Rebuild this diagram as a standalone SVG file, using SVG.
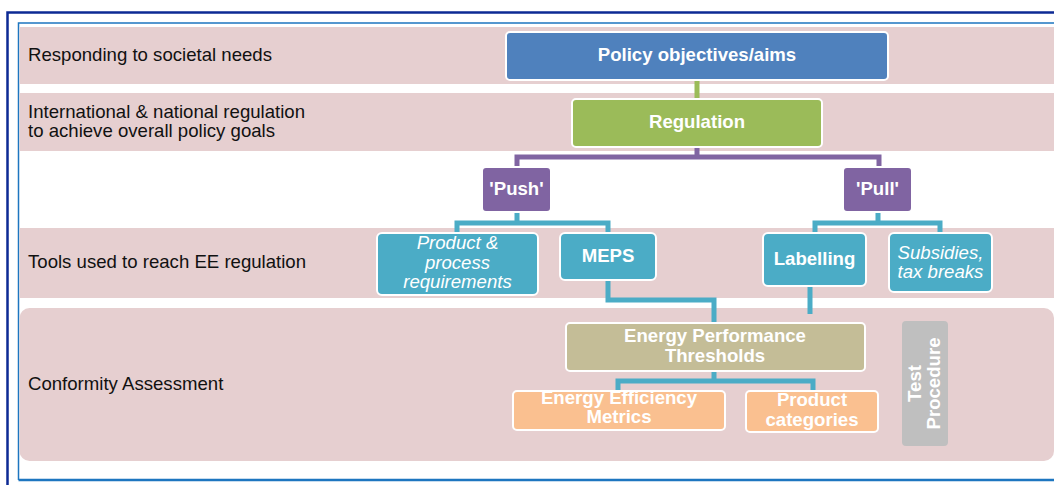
<svg xmlns="http://www.w3.org/2000/svg" width="1054" height="485" viewBox="0 0 1054 485">
<style>
.band{fill:#e6cfd0}
.lbl{font-family:"Liberation Sans",Arial,sans-serif;font-size:18.6px;fill:#111}
.node{stroke:#fff;stroke-width:2}
.t{font-family:"Liberation Sans",Arial,sans-serif;font-size:18.6px;fill:#fff;text-anchor:middle;font-weight:bold}
.ti{font-family:"Liberation Sans",Arial,sans-serif;font-size:18.6px;fill:#fff;text-anchor:middle;font-style:italic}
.c{fill:none;stroke-width:5;stroke-linejoin:miter}
</style>
<rect x="0" y="0" width="1054" height="485" fill="#fff"/>
<g id="frame">
<path d="M7.5 490 V12.5 H1060" fill="none" stroke="#0d2a94" stroke-width="2.5"/>
<path d="M18.5 480 V23 H1060" fill="none" stroke="#1d76c0" stroke-width="1.5"/>
<path d="M18.5 480 H1060" fill="none" stroke="#1d76c0" stroke-width="2.5"/>
</g>
<g id="bands">
<rect class="band" x="19.5" y="27" width="1050" height="57"/>
<rect class="band" x="19.5" y="93" width="1050" height="58"/>
<rect class="band" x="19.5" y="228" width="1050" height="70"/>
<rect class="band" x="19.5" y="308" width="1034.5" height="153" rx="10"/>
</g>
<g id="labels">
<text class="lbl" x="28" y="61">Responding to societal needs</text>
<text class="lbl" x="28" y="118">International &amp; national regulation</text>
<text class="lbl" x="28" y="137">to achieve overall policy goals</text>
<text class="lbl" x="28" y="268">Tools used to reach EE regulation</text>
<text class="lbl" x="28" y="390">Conformity Assessment</text>
</g>
<g id="connectors">
<path class="c" stroke="#9bbb59" d="M697 80 V99"/>
<path class="c" stroke="#8064a2" d="M697 147 V157 M517 167 V157 H879 V167"/>
<path class="c" stroke="#4bacc6" d="M517 212 V223 M457 233 V223 H608 V233"/>
<path class="c" stroke="#4bacc6" d="M878 212 V223 M815 233 V223 H940 V233"/>
<path class="c" stroke="#4bacc6" d="M608 280 V300 H714 V323"/>
<path class="c" stroke="#4bacc6" d="M810 286 V314"/>
<path class="c" stroke="#4bacc6" d="M714 371 V381 M618 391 V381 H813 V391"/>
</g>
<g id="policy">
<rect class="node" x="506" y="32" width="382" height="48" rx="4" fill="#4f81bd"/>
<text class="t" x="697" y="61">Policy objectives/aims</text>
</g>
<g id="regulation">
<rect class="node" x="572" y="99" width="250" height="48" rx="4" fill="#9bbb59"/>
<text class="t" x="697" y="128">Regulation</text>
</g>
<g id="push">
<rect class="node" x="482" y="167" width="69" height="45" rx="4" fill="#8064a2"/>
<text class="t" x="516.5" y="195">'Push'</text>
</g>
<g id="pull">
<rect class="node" x="843" y="167" width="69" height="45" rx="4" fill="#8064a2"/>
<text class="t" x="877.5" y="195">'Pull'</text>
</g>
<g id="product-process">
<rect class="node" x="377" y="233" width="161" height="62" rx="5" fill="#4bacc6"/>
<text class="ti" x="457.5" y="249">Product &amp;</text>
<text class="ti" x="457.5" y="269">process</text>
<text class="ti" x="457.5" y="288">requirements</text>
</g>
<g id="meps">
<rect class="node" x="560" y="233" width="96" height="47" rx="5" fill="#4bacc6"/>
<text class="t" x="608" y="262">MEPS</text>
</g>
<g id="labelling">
<rect class="node" x="763" y="233" width="103" height="53" rx="5" fill="#4bacc6"/>
<text class="t" x="814.5" y="265">Labelling</text>
</g>
<g id="subsidies">
<rect class="node" x="889" y="233" width="103" height="59" rx="5" fill="#4bacc6"/>
<text class="ti" x="940.5" y="259">Subsidies,</text>
<text class="ti" x="940.5" y="278">tax breaks</text>
</g>
<g id="ept">
<rect class="node" x="566" y="323" width="299" height="48" rx="4" fill="#c4bd97"/>
<text class="t" x="715" y="342">Energy Performance</text>
<text class="t" x="715" y="362">Thresholds</text>
</g>
<g id="eem">
<rect class="node" x="513" y="391" width="212" height="39" rx="4" fill="#fac090"/>
<text class="t" x="619" y="404">Energy Efficiency</text>
<text class="t" x="619" y="423">Metrics</text>
</g>
<g id="product-categories">
<rect class="node" x="746" y="391" width="132" height="41" rx="4" fill="#fac090"/>
<text class="t" x="812" y="406">Product</text>
<text class="t" x="812" y="426">categories</text>
</g>
<g id="test-procedure">
<rect x="902" y="321" width="46" height="125" rx="4" fill="#bfbfbf"/>
<g transform="translate(925 383.5) rotate(-90)">
<text class="t" x="0" y="-4">Test</text>
<text class="t" x="0" y="15">Procedure</text>
</g>
</g>
</svg>
